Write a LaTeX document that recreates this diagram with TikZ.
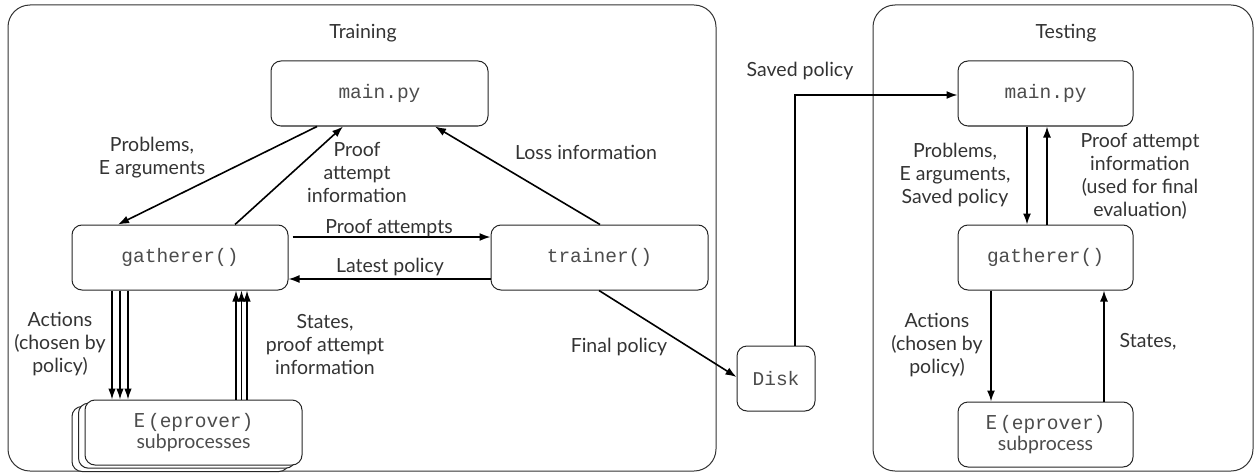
\documentclass[tikz,border=0pt]{standalone}
\usepackage{fontspec}
\setmainfont{Lato}
\newfontfamily\monof{Liberation Mono}
\usetikzlibrary{arrows.meta,calc}
\newcommand{\sansz}{\normalfont\fontsize{19.5}{23}\selectfont}
\newcommand{\monoz}{\monof\fontsize{19.5}{23}\selectfont}
\begin{document}
\begin{tikzpicture}[x=1pt,y=-1pt,
  txt/.style={font=\sansz, text=black!80, align=center, inner sep=0pt},
  box/.style={draw=black!85, line width=1pt, rounded corners=10pt, fill=white, inner sep=0pt,
              font=\monoz, text=black!70, align=center},
  frame/.style={draw=black!80, line width=1pt, rounded corners=22pt},
  arr/.style={line width=1.6pt, -{Latex[length=11pt,width=8pt]}},
  arrs/.style={line width=1.4pt, -{Latex[length=11pt,width=7.5pt]}},
  ]
\useasboundingbox (0,0) rectangle (1257,476);
% frames
\draw[frame] (8,5) rectangle (716,471);
\draw[frame] (873,5) rectangle (1253,471);
\node[txt] (ttrain) at (363,33) {Training};
\node[txt] (ttest) at (1066,33) {Testing};
% training nodes
\node[box, minimum width=217pt, minimum height=65pt] (mainT) at (379.5,93.5) {main.py};
\node[box, minimum width=216pt, minimum height=65pt] (gT) at (180,257.5) {gatherer()};
\node[box, minimum width=217pt, minimum height=65pt] (tr) at (599.5,257.5) {trainer()};
\node[box, minimum width=217pt, minimum height=65pt] (Eb2) at (180.5,439) {};
\node[box, minimum width=217pt, minimum height=65pt] (Eb1) at (187,435.7) {};
\node[box, minimum width=217pt, minimum height=65pt] (ET) at (193.5,432.5) {{\sansz E\,}{\monoz(eprover)}\\[-2pt]{\sansz subprocesses}};
\node[box, minimum width=78pt, minimum height=65pt] (disk) at (776,378.5) {Disk};
% testing nodes
\node[box, minimum width=175pt, minimum height=65pt] (mainS) at (1045.5,93.5) {main.py};
\node[box, minimum width=175pt, minimum height=65pt] (gS) at (1045.5,257.5) {gatherer()};
\node[box, minimum width=175pt, minimum height=65pt] (ES) at (1045.5,434.5) {{\sansz E\,}{\monoz(eprover)}\\[-2pt]{\sansz subprocess}};
% training arrows
\draw[arr] ([xshift=-62.5pt]mainT.south) -- ([xshift=-62pt]gT.north);
\draw[arr] ([xshift=55pt]gT.north) -- ([xshift=-36.5pt]mainT.south);
\draw[arr] ([xshift=0.5pt]tr.north) -- ([xshift=55.5pt]mainT.south);
\draw[arr] ([xshift=4pt,yshift=20.5pt]gT.east) -- ([yshift=20.5pt]tr.west);
\draw[arr] ([yshift=-21.5pt]tr.west) -- ([yshift=-21.5pt]gT.east);
\foreach \dx/\ex in {-68/-81.5,-60/-73.5,-52/-65.5}{
  \draw[arrs] ([xshift=\dx pt]gT.south) -- ([xshift=\ex pt]ET.north);
}
\foreach \dx/\ex in {56/42.5,61.5/48,67/53.5}{
  \draw[arrs] ([xshift=\ex pt]ET.north) -- ([xshift=\dx pt]gT.south);
}
\draw[arr] ([xshift=-0.5pt]tr.south) -- ([yshift=1.5pt]disk.west);
\draw[arr] ([xshift=19pt]disk.north) |- ([yshift=-1.5pt]mainS.west);
% testing arrows
\draw[arr] ([xshift=-18.5pt]mainS.south) -- ([xshift=-18.5pt]gS.north);
\draw[arr] ([xshift=1.5pt]gS.north) -- ([xshift=1.5pt]mainS.south);
\draw[arr] ([xshift=-54.5pt]gS.south) -- ([xshift=-54.5pt]ES.north);
\draw[arr] ([xshift=58.5pt]ES.north) -- ([xshift=58.5pt]gS.south);
% labels
\node[txt] (l1) at (152,158) {Problems,\\E arguments};
\node[txt] (l2) at (357,172) {Proof\\attempt\\information};
\node[txt] (l3) at (586,152) {Loss information};
\node[txt] (l4) at (389,228) {Proof attempts};
\node[txt] (l5) at (390,267) {Latest policy};
\node[txt] (l6) at (60,344) {Actions\\(chosen by\\policy)};
\node[txt] (l7) at (325,345) {States,\\proof attempt\\information};
\node[txt] (l8) at (619,347) {Final policy};
\node[txt] (l9) at (800,71) {Saved policy};
\node[txt] (l10) at (955,175) {Problems,\\E arguments,\\Saved policy};
\node[txt] (l11) at (1140,176) {Proof attempt\\information\\(used for final\\evaluation)};
\node[txt] (l12) at (937,345) {Actions\\(chosen by\\policy)};
\node[txt] (l13) at (1148,342) {States,};
\end{tikzpicture}
\end{document}
